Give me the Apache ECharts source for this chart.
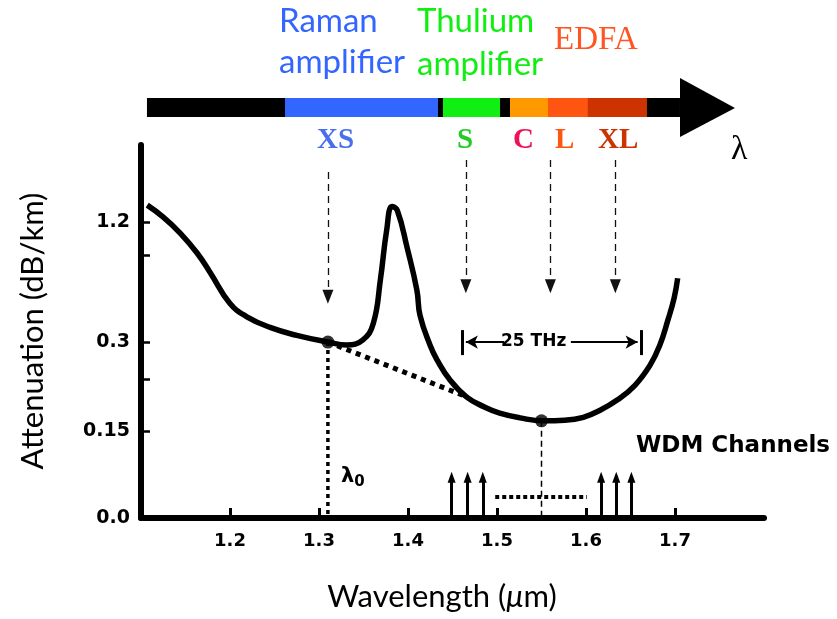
<!DOCTYPE html>
<html>
<head>
<meta charset="utf-8">
<script src="https://cdn.jsdelivr.net/npm/echarts@6/dist/echarts.min.js"></script>
<style>html,body{margin:0;padding:0;background:#fff}#c{width:837px;height:619px}</style>
</head>
<body>
<div id="c"></div>
<script>
// ---------------- data ----------------
const wavelength = [1.107, 1.125, 1.144, 1.163, 1.178, 1.200, 1.219, 1.245, 1.275, 1.310, 1.331, 1.349, 1.361, 1.369, 1.376, 1.382, 1.388, 1.399, 1.410, 1.4135, 1.4247, 1.4326, 1.4472, 1.466, 1.4865, 1.503, 1.526, 1.552, 1.576, 1.597, 1.616, 1.635, 1.655, 1.672, 1.683, 1.692, 1.699, 1.703];
const attenuation = [1.33, 1.24, 1.12, 0.97, 0.82, 0.59, 0.49, 0.41, 0.35, 0.30, 0.295, 0.315, 0.44, 0.77, 1.14, 1.32, 1.29, 1.01, 0.69, 0.50, 0.295, 0.27, 0.236, 0.207, 0.190, 0.180, 0.172, 0.167, 0.168, 0.173, 0.185, 0.202, 0.227, 0.261, 0.295, 0.465, 0.631, 0.78];

const xTickValues = [1.2, 1.3, 1.4, 1.5, 1.6, 1.7];
const yTickLabels = ['0.0', '0.15', '0.3', '1.2'];
const yTickAtten = [0, 0.15, 0.3, 1.2];
const yMinorAtten = [0.237, 0.955];

const lambda0 = 1.31, lambda0Atten = 0.30;
const lambdaMin = 1.55, lambdaMinAtten = 0.167;
const rayleighEnd = [1.467, 0.207];

const bandNames = ['XS', 'S', 'C', 'L', 'XL'];
const bandArrowX = [1.31, 1.465, 1.56, 1.633];      // band arrows (XS, S, L, XL)
const bandArrowTopAtten = [1.58, 1.67, 1.67, 1.67];
const bandArrowTipAtten = [0.64, 0.72, 0.72, 0.72];

const amplifierStart = [1.2618, 1.4393, 1.5146, 1.5573, 1.6022];
const amplifierEnd   = [1.4337, 1.5034, 1.5573, 1.6022, 1.6685];
const spectrumBar = [1.1067, 1.7056];
const spectrumTip = 1.7674;

const wdmLeft = [1.449, 1.467, 1.484];
const wdmRight = [1.617, 1.634, 1.651];
const wdmHeight = 0.07;
const wdmSpan = [1.498, 1.601];
const wdmSpanAtten = 0.036;

const thzBracket = [1.461, 1.662];
const thzAtten = 0.30;
const thzBarAtten = [0.278, 0.39];
const thzTextGap = [1.508, 1.583];

// --------- broken (piecewise) y scale: attenuation -> axis position ---------
const yAxisPos = [0, 0.99, 2.0, 3.36];
function toAxis(a) {
  let i = 0;
  while (i < yTickAtten.length - 2 && a > yTickAtten[i + 1]) i++;
  const a0 = yTickAtten[i], a1 = yTickAtten[i + 1];
  const p0 = yAxisPos[i], p1 = yAxisPos[i + 1];
  return p0 + (a - a0) * (p1 - p0) / (a1 - a0);
}
const P = (x, a) => [x, toAxis(a)];

const bandColors = ['#3366ff', '#11ee11', '#ff9900', '#ff5511', '#cc3300'];
const labelColors = ['#4a6ef0', '#22cc22', '#ee1155', '#ff5511', '#cc3300'];

const chart = echarts.init(document.getElementById('c'), null, {renderer: 'canvas'});

const bandArrowLines = bandArrowX.map((x, i) => [{coord: P(x, bandArrowTopAtten[i])}, {coord: P(x, bandArrowTipAtten[i])}]);
const wdmLines = wdmLeft.concat(wdmRight).map(x => [{coord: P(x, 0)}, {coord: P(x, wdmHeight)}]);

const titleFont = 'Lato';
const option = {
  animation: false,
  backgroundColor: '#fff',
  grid: [
    {left: 141, top: 145, width: 623, height: 373, containLabel: false},
    {left: 141, top: 98, width: 623, height: 19, containLabel: false}
  ],
  xAxis: [{
    type: 'value', gridIndex: 0, min: 1.1, max: 1.8,
    axisLine: {lineStyle: {color: '#000', width: 6}},
    axisTick: {show: true, inside: true, length: 10, lineStyle: {color: '#000', width: 3}, customValues: xTickValues},
    axisLabel: {customValues: xTickValues, formatter: v => v.toFixed(1), color: '#000', fontFamily: 'DejaVu Sans', fontWeight: 'bold', fontSize: 18, margin: 14},
    splitLine: {show: false}
  }, {
    type: 'value', gridIndex: 1, min: 1.1, max: 1.8, show: false
  }],
  yAxis: [{
    type: 'value', gridIndex: 0, min: 0, max: 4.24,
    axisLine: {show: true, lineStyle: {color: '#000', width: 6}},
    axisTick: {show: true, inside: true, length: 9, lineStyle: {color: '#000', width: 2.5}, customValues: yTickAtten.concat(yMinorAtten).filter(a => a > 0).map(toAxis)},
    axisLabel: {customValues: yTickAtten.map(toAxis), formatter: v => {
      const i = yTickAtten.map(toAxis).findIndex(p => Math.abs(p - v) < 1e-6);
      return i >= 0 ? yTickLabels[i] : '';
    }, color: '#000', fontFamily: 'DejaVu Sans', fontWeight: 'bold', fontSize: 19, margin: 11},
    splitLine: {show: false}
  }, {
    type: 'value', gridIndex: 1, min: 0, max: 1, show: false
  }],
  series: [
    // attenuation curve
    {type: 'line', xAxisIndex: 0, yAxisIndex: 0, data: wavelength.map((x, i) => P(x, attenuation[i])),
     smooth: 0.45, showSymbol: false, lineStyle: {color: '#000', width: 5.5}, z: 5},
    // Rayleigh extrapolation (dotted)
    {type: 'line', data: [P(lambda0, lambda0Atten), P(rayleighEnd[0], rayleighEnd[1])], showSymbol: false,
     lineStyle: {color: '#000', width: 5, type: [5, 5]}, z: 4},
    // lambda0 drop line
    {type: 'line', data: [P(lambda0, lambda0Atten), P(lambda0, 0)], showSymbol: false,
     lineStyle: {color: '#000', width: 3.5, type: [4, 4]}, z: 4},
    // min-loss drop line
    {type: 'line', data: [P(lambdaMin, lambdaMinAtten), P(lambdaMin, 0)], showSymbol: false,
     lineStyle: {color: '#000', width: 1.5, type: [6, 4]}, z: 4},
    // WDM span (dotted)
    {type: 'line', data: [P(wdmSpan[0], wdmSpanAtten), P(wdmSpan[1], wdmSpanAtten)], showSymbol: false,
     lineStyle: {color: '#000', width: 4, type: [4, 3]}, z: 4},
    // points
    {type: 'scatter', data: [P(lambda0, lambda0Atten), P(lambdaMin, lambdaMinAtten)], symbolSize: 13,
     itemStyle: {color: '#000'}, z: 6},
    // band arrows
    {type: 'line', data: [], markLine: {silent: true, symbol: ['none', 'triangle'], symbolSize: [11, 14],
      label: {show: false}, lineStyle: {color: '#111', width: 1.3, type: [7, 5]}, data: bandArrowLines}},
    // WDM channel arrows
    {type: 'line', data: [], markLine: {silent: true, symbol: ['none', 'triangle'], symbolSize: [8, 11],
      label: {show: false}, lineStyle: {color: '#000', width: 3, type: 'solid'}, data: wdmLines}},
    // 25 THz bracket
    {type: 'line', data: [], markLine: {silent: true, label: {show: false}, lineStyle: {color: '#000', width: 3, type: 'solid'},
      symbol: ['none', 'none'],
      data: [
        [{coord: P(thzBracket[0], thzBarAtten[0])}, {coord: P(thzBracket[0], thzBarAtten[1])}],
        [{coord: P(thzBracket[1], thzBarAtten[0])}, {coord: P(thzBracket[1], thzBarAtten[1])}]
      ]}},
    {type: 'line', data: [], markLine: {silent: true, label: {show: false}, lineStyle: {color: '#000', width: 2, type: 'solid'},
      symbol: ['none', 'arrow'], symbolSize: [10, 12],
      data: [
        [{coord: P(thzTextGap[0], thzAtten)}, {coord: P(thzBracket[0] + 0.004, thzAtten)}],
        [{coord: P(thzTextGap[1], thzAtten)}, {coord: P(thzBracket[1] - 0.004, thzAtten)}]
      ]}},
    // spectrum bar (second grid)
    {type: 'custom', xAxisIndex: 1, yAxisIndex: 1, clip: false,
     data: [[spectrumBar[0], spectrumBar[1], -1]].concat(amplifierStart.map((s, i) => [s, amplifierEnd[i], i])),
     renderItem: (params, api) => {
       const p0 = api.coord([api.value(0), 1]);
       const p1 = api.coord([api.value(1), 0]);
       const c = api.value(2);
       return {type: 'rect', shape: {x: p0[0], y: p0[1], width: p1[0] - p0[0], height: p1[1] - p0[1]},
               style: {fill: c < 0 ? '#000' : bandColors[c]}};
     }, z: 2},
    {type: 'custom', xAxisIndex: 1, yAxisIndex: 1, clip: false,
     data: [[spectrumBar[1], spectrumTip]],
     renderItem: (params, api) => {
       const a = api.coord([api.value(0), 2.05]);
       const b = api.coord([api.value(1), 0.47]);
       const c = api.coord([api.value(0), -1.05]);
       return {type: 'polygon', shape: {points: [a, b, c]}, style: {fill: '#000'}};
     }, z: 2}
  ],
  graphic: [
    {type: 'text', left: 279, top: 5, style: {text: 'Raman', font: '33px Lato', fill: '#3366ff'}},
    {type: 'text', left: 279, top: 46, style: {text: 'amplifier', font: '33px Lato', fill: '#3366ff'}},
    {type: 'text', left: 417, top: 5, style: {text: 'Thulium', font: '33px Lato', fill: '#11ee11'}},
    {type: 'text', left: 417, top: 48, style: {text: 'amplifier', font: '33px Lato', fill: '#11ee11'}},
    {type: 'text', left: 554, top: 24, style: {text: 'EDFA', font: '33px "Liberation Serif"', fill: '#ff5522'}},
    {type: 'text', left: 317, top: 126, style: {text: bandNames[0], font: 'bold 29px "Liberation Serif"', fill: labelColors[0]}},
    {type: 'text', left: 457, top: 126, style: {text: bandNames[1], font: 'bold 29px "Liberation Serif"', fill: labelColors[1]}},
    {type: 'text', left: 513, top: 126, style: {text: bandNames[2], font: 'bold 29px "Liberation Serif"', fill: labelColors[2]}},
    {type: 'text', left: 555, top: 126, style: {text: bandNames[3], font: 'bold 29px "Liberation Serif"', fill: labelColors[3]}},
    {type: 'text', left: 598, top: 126, style: {text: bandNames[4], font: 'bold 29px "Liberation Serif"', fill: labelColors[4]}},
    {type: 'text', left: 731, top: 133, style: {text: 'λ', font: '34px "Liberation Serif"', fill: '#000'}},
    {type: 'text', left: 501, top: 333, style: {text: '25 THz', font: 'bold 17px "DejaVu Sans"', fill: '#000'}},
    {type: 'text', left: 636, top: 435, style: {text: 'WDM Channels', font: 'bold 23px "DejaVu Sans"', fill: '#000'}},
    {type: 'text', left: 341, top: 466, style: {text: '{l|λ}{s|0}', rich: {l: {font: 'bold 21px "DejaVu Sans"', fill: '#000'}, s: {font: 'bold 15px "DejaVu Sans"', fill: '#000', padding: [12, 0, 0, 0]}}}},
    // axis titles
    {type: 'text', x: 442, y: 597, style: {text: 'Wavelength ({i|μ}m)', textAlign: 'center', textVerticalAlign: 'middle', font: '31px ' + titleFont, fill: '#000',
      rich: {i: {font: 'italic 31px ' + titleFont, fill: '#000'}}}},
    {type: 'text', x: 33, y: 331, rotation: Math.PI / 2, style: {text: 'Attenuation (dB/km)', textAlign: 'center', textVerticalAlign: 'middle', font: '31px ' + titleFont, fill: '#000'}}
  ]
};
chart.setOption(option);
</script>
</body>
</html>
